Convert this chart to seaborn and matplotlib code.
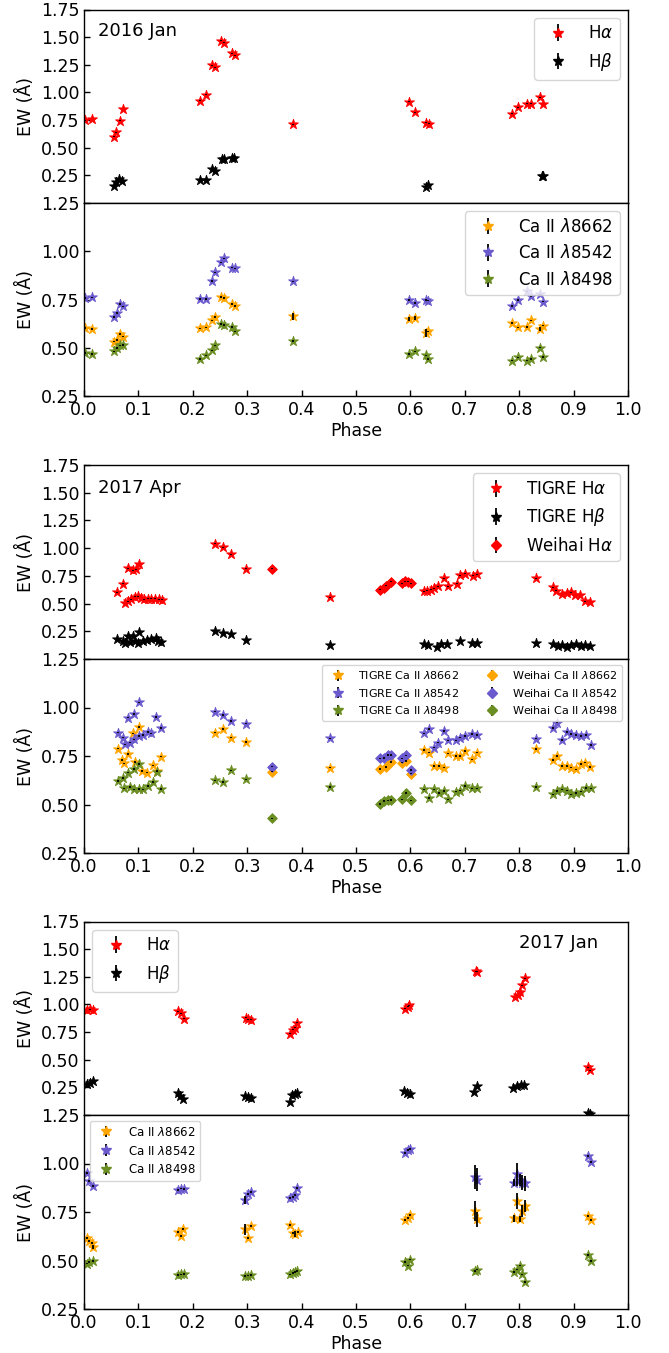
import numpy as np
import pandas as pd
import matplotlib
matplotlib.use("Agg")
import matplotlib.pyplot as plt
import seaborn as sns

# ---------------- data: 2016 Jan ----------------
jan16_ha_phase = [0.002, 0.014, 0.055, 0.059, 0.066, 0.071, 0.213, 0.224, 0.236, 0.240, 0.251, 0.257, 0.272,
                  0.277, 0.385, 0.597, 0.608, 0.628, 0.634, 0.786, 0.797, 0.814, 0.821, 0.838, 0.843]
jan16_ha_ew = [0.75, 0.76, 0.60, 0.64, 0.744, 0.85, 0.925, 0.98, 1.247, 1.226, 1.467, 1.45, 1.355,
               1.337, 0.71, 0.916, 0.822, 0.726, 0.717, 0.807, 0.864, 0.898, 0.898, 0.955, 0.895]
jan16_hb_phase = [0.055, 0.059, 0.065, 0.070, 0.213, 0.224, 0.236, 0.240, 0.253, 0.258, 0.272, 0.275,
                  0.628, 0.633, 0.841, 0.843]
jan16_hb_ew = [0.157, 0.19, 0.217, 0.20, 0.208, 0.208, 0.307, 0.286, 0.40, 0.397, 0.404, 0.404,
               0.145, 0.166, 0.24, 0.247]
jan16_ca_phase = [0.002, 0.014, 0.056, 0.061, 0.066, 0.071, 0.213, 0.224, 0.235, 0.240, 0.251, 0.257, 0.272,
                  0.277, 0.385, 0.597, 0.608, 0.628, 0.633, 0.786, 0.797, 0.814, 0.821, 0.838, 0.843]
jan16_ca8662 = [0.603, 0.598, 0.534, 0.543, 0.572, 0.56, 0.602, 0.607, 0.643, 0.66, 0.764, 0.759, 0.728,
                0.719, 0.664, 0.652, 0.655, 0.578, 0.586, 0.629, 0.607, 0.609, 0.643, 0.598, 0.616]
jan16_ca8662_err = [0.006, 0.004, 0.004, 0.004, 0.004, 0.004, 0.004, 0.004, 0.004, 0.004, 0.004, 0.004, 0.004,
                    0.004, 0.02, 0.01, 0.01, 0.02, 0.004, 0.004, 0.004, 0.004, 0.004, 0.01, 0.004]
jan16_ca8542 = [0.759, 0.762, 0.66, 0.681, 0.729, 0.716, 0.755, 0.755, 0.848, 0.891, 0.943, 0.964, 0.916,
                0.912, 0.845, 0.75, 0.733, 0.75, 0.745, 0.719, 0.75, 0.793, 0.767, 0.778, 0.74]
jan16_ca8498 = [0.474, 0.471, 0.483, 0.50, 0.514, 0.517, 0.445, 0.462, 0.488, 0.514, 0.626, 0.619, 0.609,
                0.586, 0.538, 0.471, 0.483, 0.462, 0.445, 0.436, 0.452, 0.436, 0.443, 0.503, 0.453]

# ---------------- data: 2017 Apr ----------------
apr17_tigre_ha_phase = [0.061, 0.072, 0.075, 0.081, 0.087, 0.094, 0.100, 0.105, 0.110, 0.117, 0.124, 0.130,
                        0.137, 0.143, 0.080, 0.090, 0.095, 0.102, 0.241, 0.256, 0.270, 0.298, 0.452,
                        0.625, 0.631, 0.638, 0.644, 0.651, 0.661, 0.669, 0.686, 0.692, 0.700, 0.715, 0.722,
                        0.831, 0.862, 0.868, 0.878, 0.887, 0.895, 0.903, 0.911, 0.921, 0.931]
apr17_tigre_ha_ew = [0.60, 0.68, 0.505, 0.52, 0.54, 0.56, 0.565, 0.55, 0.54, 0.545, 0.545, 0.545,
                     0.54, 0.535, 0.817, 0.80, 0.81, 0.857, 1.04, 1.006, 0.946, 0.814, 0.556,
                     0.61, 0.615, 0.625, 0.637, 0.655, 0.73, 0.655, 0.68, 0.754, 0.77, 0.751, 0.766,
                     0.727, 0.646, 0.616, 0.586, 0.595, 0.60, 0.577, 0.577, 0.52, 0.514]
apr17_weihai_ha_phase = [0.345, 0.545, 0.551, 0.555, 0.564, 0.584, 0.590, 0.595, 0.602]
apr17_weihai_ha_ew = [0.814, 0.625, 0.64, 0.66, 0.697, 0.685, 0.703, 0.697, 0.685]
apr17_tigre_hb_phase = [0.061, 0.071, 0.076, 0.081, 0.084, 0.090, 0.094, 0.099, 0.102, 0.109, 0.116, 0.124,
                        0.132, 0.136, 0.142, 0.241, 0.256, 0.270, 0.298, 0.452, 0.625, 0.632, 0.649,
                        0.657, 0.667, 0.692, 0.713, 0.722, 0.831, 0.862, 0.871, 0.878, 0.888, 0.896,
                        0.904, 0.913, 0.921, 0.931]
apr17_tigre_hb_ew = [0.176, 0.161, 0.146, 0.21, 0.152, 0.205, 0.161, 0.14, 0.248, 0.161, 0.167, 0.176,
                     0.19, 0.161, 0.152, 0.257, 0.236, 0.227, 0.17, 0.122, 0.131, 0.125, 0.11,
                     0.131, 0.131, 0.16, 0.146, 0.143, 0.14, 0.131, 0.116, 0.125, 0.11, 0.125,
                     0.131, 0.116, 0.122, 0.116]

apr17_tigre_ca_phase = [0.063, 0.070, 0.074, 0.081, 0.090, 0.094, 0.101, 0.107, 0.116, 0.126, 0.134, 0.142,
                        0.241, 0.256, 0.270, 0.298, 0.452, 0.625, 0.634, 0.644, 0.653, 0.661, 0.669,
                        0.684, 0.692, 0.700, 0.713, 0.722, 0.831, 0.862, 0.870, 0.878, 0.888, 0.896,
                        0.904, 0.913, 0.921, 0.931]
apr17_tigre_ca8662 = [0.788, 0.728, 0.712, 0.759, 0.866, 0.719, 0.90, 0.672, 0.664, 0.702, 0.672, 0.747,
                      0.871, 0.888, 0.845, 0.822, 0.69, 0.781, 0.767, 0.698, 0.698, 0.69, 0.764,
                      0.75, 0.75, 0.776, 0.733, 0.767, 0.785, 0.728, 0.75, 0.698, 0.698, 0.69,
                      0.681, 0.71, 0.716, 0.693]
apr17_tigre_ca8542_phase = [0.063, 0.071, 0.076, 0.081, 0.084, 0.091, 0.092, 0.101, 0.102, 0.109, 0.117,
                            0.124, 0.132, 0.142, 0.241, 0.256, 0.270, 0.298, 0.452, 0.625, 0.634, 0.644,
                            0.651, 0.661, 0.669, 0.684, 0.692, 0.700, 0.713, 0.722, 0.831, 0.862, 0.870,
                            0.878, 0.887, 0.896, 0.904, 0.913, 0.923, 0.932]
apr17_tigre_ca8542 = [0.871, 0.845, 0.81, 0.948, 0.819, 0.966, 0.836, 1.026, 0.853, 0.859, 0.874,
                      0.866, 0.952, 0.893, 0.979, 0.962, 0.931, 0.917, 0.841, 0.867, 0.888, 0.793,
                      0.819, 0.879, 0.831, 0.831, 0.845, 0.853, 0.862, 0.859, 0.84, 0.893, 0.922,
                      0.833, 0.874, 0.862, 0.857, 0.853, 0.859, 0.807]
apr17_tigre_ca8498_phase = [0.063, 0.071, 0.074, 0.081, 0.084, 0.091, 0.092, 0.101, 0.102, 0.109, 0.117,
                            0.126, 0.134, 0.142, 0.241, 0.256, 0.270, 0.298, 0.452, 0.625, 0.634, 0.644,
                            0.653, 0.661, 0.669, 0.684, 0.692, 0.700, 0.713, 0.722, 0.831, 0.862, 0.870,
                            0.878, 0.887, 0.896, 0.904, 0.913, 0.923, 0.932]
apr17_tigre_ca8498 = [0.621, 0.638, 0.583, 0.664, 0.59, 0.684, 0.578, 0.71, 0.581, 0.578, 0.595,
                      0.616, 0.669, 0.581, 0.624, 0.617, 0.676, 0.629, 0.591, 0.578, 0.534, 0.578,
                      0.56, 0.569, 0.526, 0.566, 0.572, 0.595, 0.583, 0.583, 0.59, 0.552, 0.569,
                      0.578, 0.572, 0.552, 0.56, 0.566, 0.586, 0.583]
apr17_weihai_ca8662_phase = [0.345, 0.545, 0.555, 0.564, 0.584, 0.592, 0.602]
apr17_weihai_ca8662 = [0.669, 0.684, 0.693, 0.72, 0.716, 0.724, 0.659]
apr17_weihai_ca8542_phase = [0.345, 0.545, 0.551, 0.559, 0.564, 0.584, 0.592, 0.602]
apr17_weihai_ca8542 = [0.695, 0.738, 0.741, 0.755, 0.755, 0.738, 0.753, 0.678]
apr17_weihai_ca8498_phase = [0.345, 0.545, 0.552, 0.559, 0.564, 0.584, 0.592, 0.602]
apr17_weihai_ca8498 = [0.428, 0.503, 0.517, 0.521, 0.524, 0.526, 0.56, 0.521]

# ---------------- data: 2017 Jan ----------------
jan17_ha_phase = [0.005, 0.011, 0.017, 0.173, 0.178, 0.183, 0.298, 0.302, 0.307, 0.379, 0.384, 0.387, 0.392,
                  0.590, 0.595, 0.598, 0.720, 0.722, 0.792, 0.797, 0.801, 0.806, 0.810, 0.926, 0.931]
jan17_ha_ew = [0.95, 0.955, 0.95, 0.94, 0.918, 0.87, 0.879, 0.864, 0.861, 0.737, 0.773, 0.788, 0.834,
               0.961, 0.979, 0.994, 1.30, 1.295, 1.067, 1.085, 1.112, 1.175, 1.236, 0.431, 0.404]
jan17_hb_phase = [0.005, 0.011, 0.017, 0.172, 0.177, 0.182, 0.296, 0.302, 0.307, 0.379, 0.382, 0.387, 0.392,
                  0.588, 0.593, 0.599, 0.717, 0.722, 0.789, 0.796, 0.803, 0.809, 0.926, 0.930]
jan17_hb_ew = [0.28, 0.289, 0.304, 0.198, 0.168, 0.147, 0.168, 0.159, 0.153, 0.116, 0.183, 0.192, 0.198,
               0.213, 0.198, 0.192, 0.207, 0.259, 0.244, 0.259, 0.268, 0.274, 0.02, 0.012]
jan17_ca8662_phase = [0.005, 0.010, 0.015, 0.017, 0.173, 0.178, 0.182, 0.296, 0.302, 0.307, 0.379, 0.384,
                      0.387, 0.393, 0.590, 0.595, 0.599, 0.719, 0.723, 0.791, 0.796, 0.801, 0.805, 0.810,
                      0.926, 0.932]
jan17_ca8662 = [0.617, 0.60, 0.588, 0.571, 0.647, 0.626, 0.66, 0.66, 0.617, 0.678, 0.683, 0.64,
                0.638, 0.648, 0.707, 0.721, 0.733, 0.755, 0.712, 0.717, 0.807, 0.712, 0.755, 0.781,
                0.729, 0.709]
jan17_ca8662_err = [0.005, 0.005, 0.005, 0.01, 0.005, 0.005, 0.005, 0.03, 0.005, 0.005, 0.005, 0.005,
                    0.015, 0.005, 0.005, 0.005, 0.005, 0.05, 0.04, 0.02, 0.04, 0.015, 0.03, 0.03,
                    0.005, 0.005]
jan17_ca_phase = [0.005, 0.010, 0.017, 0.173, 0.178, 0.183, 0.296, 0.302, 0.307, 0.379, 0.384, 0.387, 0.392,
                  0.590, 0.595, 0.599, 0.719, 0.723, 0.791, 0.796, 0.801, 0.805, 0.810, 0.926, 0.932]
jan17_ca8542 = [0.95, 0.91, 0.884, 0.864, 0.871, 0.867, 0.812, 0.841, 0.855, 0.824, 0.829, 0.836, 0.872,
                1.052, 1.071, 1.074, 0.931, 0.916, 0.902, 0.945, 0.916, 0.902, 0.898, 1.04, 1.009]
jan17_ca8542_err = [0.005, 0.005, 0.005, 0.005, 0.005, 0.005, 0.02, 0.005, 0.005, 0.005, 0.005, 0.005, 0.005,
                    0.005, 0.005, 0.005, 0.06, 0.06, 0.02, 0.06, 0.03, 0.04, 0.04, 0.005, 0.005]
jan17_ca8498 = [0.484, 0.491, 0.497, 0.424, 0.428, 0.431, 0.419, 0.422, 0.426, 0.428, 0.436, 0.44, 0.445,
                0.491, 0.474, 0.505, 0.445, 0.453, 0.44, 0.453, 0.474, 0.428, 0.39, 0.528, 0.497]

ERR_SMALL = 0.004

labels_h = [r"H$\alpha$", r"H$\beta$"]
labels_ca = [r"Ca II $\lambda$8662", r"Ca II $\lambda$8542", r"Ca II $\lambda$8498"]
epochs = ["2016 Jan", "2017 Apr", "2017 Jan"]

C_HA, C_HB = "red", "black"
C_8662, C_8542, C_8498 = "orange", "slateblue", "olivedrab"

# ---------------- style ----------------
sns.set_theme(style="ticks", rc={
    "xtick.direction": "in", "ytick.direction": "in",
    "axes.edgecolor": "black", "axes.labelcolor": "black", "text.color": "black",
    "xtick.color": "black", "ytick.color": "black",
    "axes.linewidth": 1.0, "xtick.major.size": 4, "ytick.major.size": 4,
    "xtick.major.width": 1.0, "ytick.major.width": 1.0,
})
plt.rcParams["font.family"] = ["DejaVu Sans"]
plt.rcParams["mathtext.fontset"] = "dejavusans"

W, H = 669, 1353
fig = plt.figure(figsize=(W / 100, H / 100), dpi=100)

def add_panel(ytop, ybot):
    return fig.add_axes([84 / W, 1 - ybot / H, 544 / W, (ybot - ytop) / H])

MS = 7.5

def draw(ax, x, y, err, color, marker, label, ms=MS):
    df = pd.DataFrame({"phase": x, "ew": y})
    sns.scatterplot(data=df, x="phase", y="ew", ax=ax, marker=marker, color=color,
                    s=ms ** 2, edgecolor=color, linewidth=0.6, legend=False, zorder=2)
    ax.errorbar(x, y, yerr=err, fmt="none", ecolor="black", elinewidth=1.3, zorder=3)
    ax.errorbar([], [], yerr=[], fmt=marker, color=color, ms=ms, ecolor="black",
                elinewidth=1.3, label=label)

FS = 12.5

def style_top(ax):
    ax.set_xlim(0, 1)
    ax.set_ylim(0, 1.75)
    ax.set_yticks([0.25, 0.5, 0.75, 1.0, 1.25, 1.5, 1.75])
    ax.tick_params(axis="x", bottom=False, labelbottom=False)
    ax.tick_params(axis="y", labelsize=FS)
    ax.set_xlabel("")
    ax.set_ylabel("EW (Å)", fontsize=FS)

def style_bot(ax):
    ax.set_xlim(0, 1)
    ax.set_ylim(0.25, 1.25)
    ax.set_yticks([0.25, 0.5, 0.75, 1.0, 1.25])
    ax.set_xticks(np.round(np.arange(0, 1.01, 0.1), 1))
    ax.tick_params(labelsize=FS)
    ax.set_xlabel("Phase", fontsize=FS, labelpad=2)
    ax.set_ylabel("EW (Å)", fontsize=FS)

# ---------------- group 1: 2016 Jan ----------------
a1 = add_panel(9.5, 203)
b1 = add_panel(203, 396.5)
draw(a1, jan16_ha_phase, jan16_ha_ew, ERR_SMALL, C_HA, "*", labels_h[0])
draw(a1, jan16_hb_phase, jan16_hb_ew, ERR_SMALL, C_HB, "*", labels_h[1])
draw(b1, jan16_ca_phase, jan16_ca8662, jan16_ca8662_err, C_8662, "*", labels_ca[0])
draw(b1, jan16_ca_phase, jan16_ca8542, ERR_SMALL, C_8542, "*", labels_ca[1])
draw(b1, jan16_ca_phase, jan16_ca8498, ERR_SMALL, C_8498, "*", labels_ca[2])
style_top(a1); style_bot(b1)
a1.text(0.026, 0.89, epochs[0], transform=a1.transAxes, fontsize=13, va="center", ha="left")
a1.legend(loc="upper right", fontsize=12)
b1.legend(loc="upper right", fontsize=12)

# ---------------- group 2: 2017 Apr ----------------
a2 = add_panel(465, 659)
b2 = add_panel(659, 853)
draw(a2, apr17_tigre_ha_phase, apr17_tigre_ha_ew, ERR_SMALL, C_HA, "*", "TIGRE " + labels_h[0])
draw(a2, apr17_tigre_hb_phase, apr17_tigre_hb_ew, ERR_SMALL, C_HB, "*", "TIGRE " + labels_h[1])
draw(a2, apr17_weihai_ha_phase, apr17_weihai_ha_ew, ERR_SMALL, C_HA, "D", "Weihai " + labels_h[0], ms=5)
draw(b2, apr17_tigre_ca_phase, apr17_tigre_ca8662, ERR_SMALL, C_8662, "*", "TIGRE " + labels_ca[0])
draw(b2, apr17_tigre_ca8542_phase, apr17_tigre_ca8542, ERR_SMALL, C_8542, "*", "TIGRE " + labels_ca[1])
draw(b2, apr17_tigre_ca8498_phase, apr17_tigre_ca8498, ERR_SMALL, C_8498, "*", "TIGRE " + labels_ca[2])
draw(b2, apr17_weihai_ca8662_phase, apr17_weihai_ca8662, ERR_SMALL, C_8662, "D", "Weihai " + labels_ca[0], ms=5)
draw(b2, apr17_weihai_ca8542_phase, apr17_weihai_ca8542, ERR_SMALL, C_8542, "D", "Weihai " + labels_ca[1], ms=5)
draw(b2, apr17_weihai_ca8498_phase, apr17_weihai_ca8498, ERR_SMALL, C_8498, "D", "Weihai " + labels_ca[2], ms=5)
style_top(a2); style_bot(b2)
a2.text(0.026, 0.88, epochs[1], transform=a2.transAxes, fontsize=13, va="center", ha="left")
a2.legend(loc="upper right", fontsize=12)
b2.legend(loc="upper right", fontsize=8, ncol=2)

# ---------------- group 3: 2017 Jan ----------------
a3 = add_panel(921.5, 1115)
b3 = add_panel(1115, 1309)
draw(a3, jan17_ha_phase, jan17_ha_ew, ERR_SMALL, C_HA, "*", labels_h[0])
draw(a3, jan17_hb_phase, jan17_hb_ew, ERR_SMALL, C_HB, "*", labels_h[1])
draw(b3, jan17_ca8662_phase, jan17_ca8662, jan17_ca8662_err, C_8662, "*", labels_ca[0])
draw(b3, jan17_ca_phase, jan17_ca8542, jan17_ca8542_err, C_8542, "*", labels_ca[1])
draw(b3, jan17_ca_phase, jan17_ca8498, ERR_SMALL, C_8498, "*", labels_ca[2])
style_top(a3); style_bot(b3)
a3.text(0.945, 0.89, epochs[2], transform=a3.transAxes, fontsize=13, va="center", ha="right")
a3.legend(loc="upper left", fontsize=12)
b3.legend(loc="upper left", fontsize=8.5)

for ax in (a1, b1, a2, b2, a3, b3):
    for s in ax.spines.values():
        s.set_visible(True)
        s.set_color("black")

fig.savefig("out.png", dpi=100)
